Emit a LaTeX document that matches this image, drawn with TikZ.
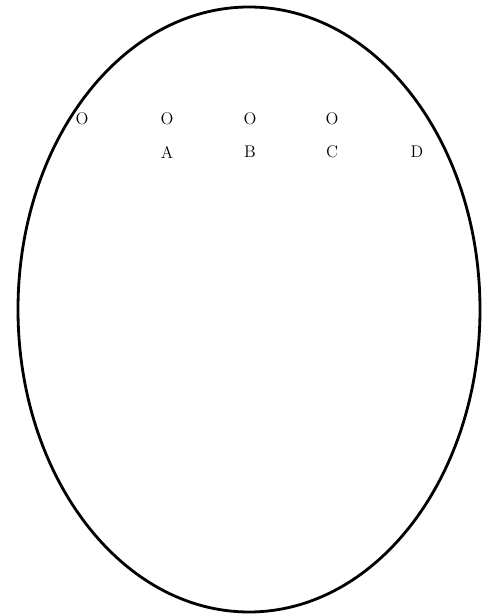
\documentclass[tikz,border=0pt]{standalone}
\usetikzlibrary{shapes.geometric}
\begin{document}
\begin{tikzpicture}[every node/.style={font=\large}]
        \useasboundingbox (0, 0) rectangle (12.225, 15.375);
        % Outline
        \node[draw, ellipse, line width=2pt, minimum width=11.55cm, minimum height=15.125cm, inner sep=0pt] (shell) at (6.225, 7.6375) {};

        % Points and labels
        \node (o0) at (2.05, 12.4) {O};
        \node (oa) at (4.175, 12.4) {O};
        \node (ob) at (6.25, 12.4) {O};
        \node (oc) at (8.3, 12.4) {O};
        \node (la) at (4.175, 11.575) {A};
        \node (lb) at (6.25, 11.575) {B};
        \node (lc) at (8.3, 11.575) {C};
        \node (ld) at (10.425, 11.575) {D};
    \end{tikzpicture}
\end{document}
